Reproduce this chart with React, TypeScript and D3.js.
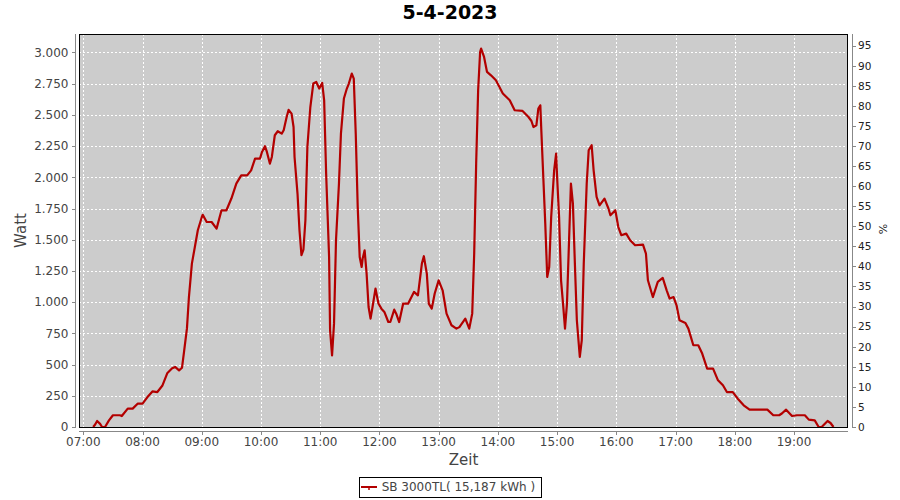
import React from "react";
import * as d3 from "d3";

const title = "5-4-2023";
const legendLabel = "SB 3000TL( 15,187 kWh )";
const xLabel = "Zeit";
const yLabel = "Watt";
const y2Label = "%";

const times: string[] = [
  "07:10","07:12","07:14","07:17","07:19","07:22","07:26","07:30","07:37","07:39",
  "07:45","07:50","07:55","08:00","08:05","08:10","08:15","08:20","08:25","08:30",
  "08:33","08:37","08:40","08:42","08:45","08:47","08:50","08:53","08:56","09:00",
  "09:01","09:05","09:10","09:15","09:20","09:25","09:30","09:35","09:40","09:46",
  "09:50","09:54","09:59","10:01","10:04","10:06","10:09","10:11","10:14","10:17",
  "10:21","10:23","10:26","10:28","10:31","10:33","10:34","10:37","10:39","10:41",
  "10:43","10:45","10:47","10:50","10:53","10:56","10:59","11:02","11:04","11:06",
  "11:09","11:10","11:12","11:14","11:16","11:19","11:21","11:24","11:27","11:29",
  "11:32","11:34","11:36","11:38","11:40","11:42","11:43","11:45","11:47","11:49",
  "11:51","11:53","11:56","11:59","12:02","12:05","12:09","12:11","12:15","12:17",
  "12:20","12:24","12:29","12:35","12:39","12:43","12:45","12:48","12:50","12:53",
  "12:56","13:00","13:04","13:08","13:13","13:18","13:21","13:27","13:31","13:34",
  "13:36","13:38","13:40","13:42","13:43","13:46","13:49","13:53","13:58","14:05",
  "14:12","14:17","14:25","14:31","14:34","14:36","14:39","14:41","14:43","14:44",
  "14:46","14:48","14:50","14:52","14:54","14:57","14:59","15:00","15:02","15:04",
  "15:06","15:08","15:10","15:12","15:14","15:16","15:18","15:20","15:23","15:25",
  "15:27","15:30","15:32","15:35","15:37","15:40","15:43","15:48","15:52","15:54",
  "15:59","16:02","16:05","16:10","16:14","16:19","16:27","16:30","16:32","16:37",
  "16:42","16:47","16:51","16:54","16:58","17:01","17:04","17:10","17:13","17:18",
  "17:23","17:27","17:32","17:38","17:43","17:48","17:52","17:58","18:03","18:09",
  "18:15","18:33","18:39","18:45","18:48","18:52","18:58","19:03","19:11","19:15",
  "19:21","19:25","19:28","19:34","19:37","19:40"
];

const watts: number[] = [
  0,20,48,25,0,0,53,94,94,88,
  147,147,187,187,240,285,280,330,430,470,
  481,454,475,600,790,1041,1309,1442,1576,1680,
  1700,1642,1642,1589,1736,1736,1830,1950,2016,2016,
  2056,2150,2150,2203,2249,2203,2110,2163,2337,2369,
  2350,2377,2483,2540,2510,2403,2163,1870,1576,1376,
  1420,1656,2243,2563,2751,2764,2711,2756,2617,2030,
  1362,775,574,828,1496,1950,2350,2631,2711,2751,
  2831,2791,2350,1762,1362,1282,1349,1415,1229,961,
  868,961,1109,989,948,922,841,841,940,908,
  841,988,988,1082,1055,1309,1368,1229,988,948,
  1069,1175,1095,908,815,788,800,868,788,908,
  1389,2110,2697,3004,3031,2964,2844,2817,2777,2671,
  2617,2537,2532,2483,2451,2403,2417,2550,2577,2377,
  2003,1629,1202,1282,1682,2056,2190,2003,1682,1175,
  988,788,988,1469,1950,1790,1309,855,561,695,
  1309,1950,2217,2257,2056,1843,1776,1830,1750,1696,
  1736,1602,1536,1549,1496,1456,1461,1389,1175,1041,
  1162,1194,1095,1029,1041,975,855,833,788,655,
  655,588,468,468,374,334,280,280,227,174,
  139,139,94,94,110,139,88,94,94,59,
  53,0,0,48,32,0
];

const wattTicks: number[] = [0,250,500,750,1000,1250,1500,1750,2000,2250,2500,2750,3000];
const pctTicks: number[] = [0,5,10,15,20,25,30,35,40,45,50,55,60,65,70,75,80,85,90,95];
const hourTicks: string[] = ["07:00","08:00","09:00","10:00","11:00","12:00","13:00","14:00","15:00","16:00","17:00","18:00","19:00"];

const W = 900, H = 500;
const plot = { left: 79, top: 34, right: 848, bottom: 427 };
const FONT = "'DejaVu Sans', sans-serif";

const parseHM = d3.timeParse("%H:%M");
const parseHMS = d3.timeParse("%H:%M:%S");
const fmtW = (v: number) => d3.format(",")(v).replace(/,/g, ".");

export default function App() {
  const x = d3.scaleTime()
    .domain([parseHMS("06:55:38") as Date, parseHMS("19:54:42") as Date])
    .range([plot.left, plot.right]);
  const y = d3.scaleLinear().domain([0, 3148]).range([plot.bottom, plot.top]);
  const y2 = d3.scaleLinear().domain([0, 97.9]).range([plot.bottom, plot.top]);

  const data = times.map((t, i) => ({ t: parseHM(t) as Date, v: watts[i] }));
  const line = d3.line<{ t: Date; v: number }>().x(d => x(d.t)).y(d => y(d.v));
  const hours = hourTicks.map(h => parseHM(h) as Date);

  const grid = "#ffffff";
  const axisCol = "#888888";
  const labCol = "#444444";

  return (
    <svg width={W} height={H} style={{ position: "absolute", left: 0, top: 0, background: "#fff" }} fontFamily={FONT}>
      <rect x={0} y={0} width={W} height={H} fill="#fff" />
      <text x={450} y={18.5} textAnchor="middle" fontSize={19} fontWeight="bold" fill="#000">{title}</text>

      {/* plot background */}
      <rect x={plot.left} y={plot.top} width={plot.right - plot.left} height={plot.bottom - plot.top} fill="#cccccc" />

      {/* gridlines */}
      <g shapeRendering="crispEdges">
        {hours.map((h, i) => (
          <line key={"vg" + i} x1={Math.round(x(h)) + 0.5} x2={Math.round(x(h)) + 0.5} y1={plot.top} y2={plot.bottom}
            stroke={grid} strokeWidth={1} strokeDasharray="2,2" />
        ))}
        {wattTicks.map((t, i) => (
          <line key={"hg" + i} x1={plot.left} x2={plot.right} y1={Math.round(y(t)) + 0.5} y2={Math.round(y(t)) + 0.5}
            stroke={grid} strokeWidth={1} strokeDasharray="2,2" />
        ))}
      </g>

      {/* series */}
      <path d={line(data) || ""} fill="none" stroke="#b30000" strokeWidth={2.2} strokeLinejoin="round" />

      {/* plot outline */}
      <rect x={plot.left + 0.5} y={plot.top + 0.5} width={plot.right - plot.left - 1} height={plot.bottom - plot.top}
        fill="none" stroke="#000" strokeWidth={1.2} shapeRendering="crispEdges" />

      {/* left axis */}
      <g shapeRendering="crispEdges">
        <line x1={75.5} x2={75.5} y1={plot.top} y2={plot.bottom + 1} stroke={axisCol} />
        {wattTicks.map((t, i) => (
          <line key={"lt" + i} x1={71.5} x2={75.5} y1={Math.round(y(t)) + 0.5} y2={Math.round(y(t)) + 0.5} stroke={axisCol} />
        ))}
      </g>
      {wattTicks.map((t, i) => (
        <text key={"ll" + i} x={68.5} y={y(t) + 4.3} textAnchor="end" fontSize={12} fill={labCol}>{fmtW(t)}</text>
      ))}
      <text transform={`translate(26,230.5) rotate(-90)`} textAnchor="middle" fontSize={15} fill={labCol}>{yLabel}</text>

      {/* right axis */}
      <g shapeRendering="crispEdges">
        <line x1={852.5} x2={852.5} y1={plot.top} y2={plot.bottom + 1} stroke={axisCol} />
        {pctTicks.map((t, i) => (
          <line key={"rt" + i} x1={852.5} x2={855.5} y1={Math.round(y2(t)) + 0.5} y2={Math.round(y2(t)) + 0.5} stroke={axisCol} />
        ))}
      </g>
      {pctTicks.map((t, i) => (
        <text key={"rl" + i} x={858} y={y2(t) + 3.8} textAnchor="start" fontSize={10.5} fill="#222">{t}</text>
      ))}
      <text transform={`translate(887,229) rotate(-90)`} textAnchor="middle" fontSize={11} fill="#222">{y2Label}</text>

      {/* bottom axis */}
      <g shapeRendering="crispEdges">
        <line x1={plot.left} x2={plot.right} y1={431.5} y2={431.5} stroke={axisCol} />
        {hours.map((h, i) => (
          <line key={"bt" + i} x1={Math.round(x(h)) + 0.5} x2={Math.round(x(h)) + 0.5} y1={431.5} y2={434.5} stroke={axisCol} />
        ))}
      </g>
      {hours.map((h, i) => (
        <text key={"bl" + i} x={x(h)} y={446} textAnchor="middle" fontSize={12} fill={labCol}>{hourTicks[i]}</text>
      ))}
      <text x={(plot.left + plot.right) / 2} y={465} textAnchor="middle" fontSize={15} fill={labCol}>{xLabel}</text>

      {/* legend */}
      <rect x={359.5} y={477.5} width={181.5} height={19.5} fill="#fff" stroke="#000" strokeWidth={1} shapeRendering="crispEdges" />
      <line x1={361} x2={377} y1={487} y2={487} stroke="#b30000" strokeWidth={2} />
      <line x1={369} x2={369} y1={487} y2={490} stroke="#b30000" strokeWidth={1.5} />
      <text x={381.7} y={491.3} fontSize={12} fill={labCol}>{legendLabel}</text>
    </svg>
  );
}
